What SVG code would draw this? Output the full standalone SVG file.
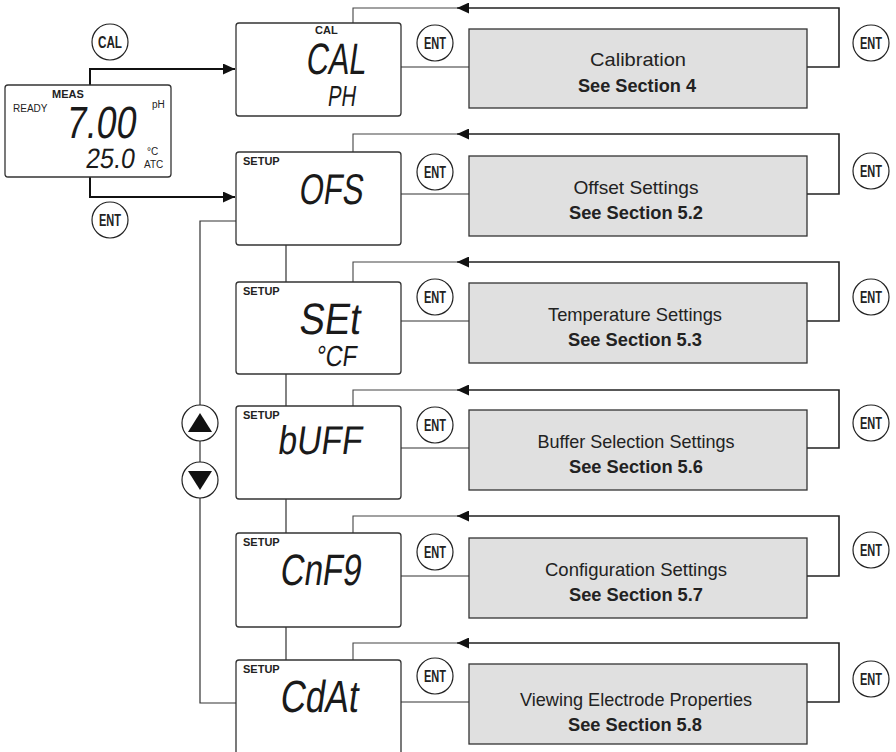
<svg xmlns="http://www.w3.org/2000/svg" width="896" height="752" viewBox="0 0 896 752">
<defs>
<style>
.box{fill:#fff;stroke:#333;stroke-width:1.3}
.gray{fill:#e0e0e0;stroke:#333;stroke-width:1.3}
.btn{fill:#fff;stroke:#222;stroke-width:1.2}
.btxt{font-family:"Liberation Sans Narrow","Liberation Sans",Arial,sans-serif;font-weight:bold;font-size:16px;fill:#222;text-anchor:middle}
.lcd{font-family:"Liberation Sans",Arial,sans-serif;font-weight:normal;fill:#1a1a1a}
.lbl{font-family:"Liberation Sans",Arial,sans-serif;font-weight:bold;font-size:11px;fill:#222}
.sm{font-family:"Liberation Sans",Arial,sans-serif;font-size:10px;fill:#222}
.t1{font-family:"Liberation Sans Narrow","Liberation Sans",Arial,sans-serif;font-size:19px;fill:#222;text-anchor:middle}
.t2{font-family:"Liberation Sans Narrow","Liberation Sans",Arial,sans-serif;font-weight:bold;font-size:19px;fill:#222;text-anchor:middle}
.fb{fill:none;stroke:#222;stroke-width:1.6}
.fl{fill:none;stroke:#444;stroke-width:1.1}
.ln{fill:none;stroke:#333;stroke-width:1.2}
.hv{fill:none;stroke:#111;stroke-width:2}
</style>
<marker id="ah" markerUnits="userSpaceOnUse" markerWidth="13" markerHeight="11" refX="12" refY="5.5" orient="auto">
<path d="M0,0 L12,5.5 L0,11 z" fill="#111"/>
</marker>
</defs>

<g id="connectors">
<path class="hv" d="M90,85 V69 H235" marker-end="url(#ah)"/>
<path class="hv" d="M90,177 V197 H235" marker-end="url(#ah)"/>
<path class="fb" d="M807,67 H839 V8 H457" marker-end="url(#ah)"/><path class="fl" d="M458,8 H353 V23"/>
<path class="fb" d="M807,194 H839 V134 H457" marker-end="url(#ah)"/><path class="fl" d="M458,134 H353 V152"/>
<path class="fb" d="M807,321 H839 V262 H457" marker-end="url(#ah)"/><path class="fl" d="M458,262 H353 V282"/>
<path class="fb" d="M807,448 H839 V390 H457" marker-end="url(#ah)"/><path class="fl" d="M458,390 H353 V406"/>
<path class="fb" d="M807,576 H839 V516 H457" marker-end="url(#ah)"/><path class="fl" d="M458,516 H353 V533"/>
<path class="fb" d="M807,702 H839 V643 H457" marker-end="url(#ah)"/><path class="fl" d="M458,643 H353 V660"/>
<path class="ln" d="M401,67 H469 M401,194 H469 M401,321 H469 M401,448 H469 M401,576 H469 M401,702 H469"/>
<path class="ln" d="M286,245 V282 M286,374 V406 M286,499 V533 M286,627 V660"/>
<path class="ln" d="M236,221 H200 V703 H236"/>
</g>

<g id="meas">
<rect class="box" x="5" y="85" width="166" height="92" rx="3"/>
<text class="lbl" x="52" y="98">MEAS</text>
<text class="sm" x="13" y="112">READY</text>
<text class="sm" x="152" y="108">pH</text>
<g transform="translate(65,138) skewX(-8)"><text class="lcd" font-size="45" textLength="70" lengthAdjust="spacingAndGlyphs">7.00</text></g>
<g transform="translate(85,168) skewX(-8)"><text class="lcd" font-size="28" textLength="49" lengthAdjust="spacingAndGlyphs">25.0</text></g>
<text class="sm" x="147" y="155">°C</text>
<text class="sm" x="144" y="168">ATC</text>
</g>

<g id="btn-cal"><circle class="btn" cx="110" cy="42" r="18"/><text class="btxt" x="110" y="48" textLength="24" lengthAdjust="spacingAndGlyphs">CAL</text></g>
<g id="btn-ent-main"><circle class="btn" cx="110" cy="220" r="18"/><text class="btxt" x="110" y="226" textLength="22" lengthAdjust="spacingAndGlyphs">ENT</text></g>

<g id="btn-up"><circle class="btn" cx="200" cy="423" r="18"/><path d="M200,413 L212,432 L188,432 z" fill="#111"/></g>
<g id="btn-down"><circle class="btn" cx="200" cy="480" r="18"/><path d="M188,471 L212,471 L200,490 z" fill="#111"/></g>

<g id="lcd-cal">
<rect class="box" x="236" y="23" width="165" height="93" rx="3"/>
<text class="lbl" x="315" y="34" font-size="10">CAL</text>
<g transform="translate(305,74) skewX(-8)"><text class="lcd" font-size="44" textLength="60" lengthAdjust="spacingAndGlyphs">CAL</text></g>
<g transform="translate(327,106) skewX(-8)"><text class="lcd" font-size="29" textLength="28" lengthAdjust="spacingAndGlyphs">PH</text></g>
</g>
<g id="lcd-ofs">
<rect class="box" x="236" y="152" width="165" height="93" rx="3"/>
<text class="lbl" x="243" y="165">SETUP</text>
<g transform="translate(298,204) skewX(-8)"><text class="lcd" font-size="43" textLength="64" lengthAdjust="spacingAndGlyphs">OFS</text></g>
</g>
<g id="lcd-set">
<rect class="box" x="236" y="282" width="165" height="92" rx="3"/>
<text class="lbl" x="243" y="295">SETUP</text>
<g transform="translate(298,334) skewX(-8)"><text class="lcd" font-size="44" textLength="61" lengthAdjust="spacingAndGlyphs">SEt</text></g>
<g transform="translate(315,366) skewX(-8)"><text class="lcd" font-size="29" textLength="41" lengthAdjust="spacingAndGlyphs">°CF</text></g>
</g>
<g id="lcd-buff">
<rect class="box" x="236" y="406" width="165" height="93" rx="3"/>
<text class="lbl" x="243" y="419">SETUP</text>
<g transform="translate(277,454) skewX(-8)"><text class="lcd" font-size="40" textLength="84" lengthAdjust="spacingAndGlyphs">bUFF</text></g>
</g>
<g id="lcd-cnf">
<rect class="box" x="236" y="533" width="165" height="94" rx="3"/>
<text class="lbl" x="243" y="546">SETUP</text>
<g transform="translate(279,585) skewX(-8)"><text class="lcd" font-size="44" textLength="81" lengthAdjust="spacingAndGlyphs">CnF9</text></g>
</g>
<g id="lcd-cdat">
<rect class="box" x="236" y="660" width="165" height="100" rx="3"/>
<text class="lbl" x="243" y="673">SETUP</text>
<g transform="translate(279,712) skewX(-8)"><text class="lcd" font-size="45" textLength="78" lengthAdjust="spacingAndGlyphs">CdAt</text></g>
</g>

<g id="ent-l1"><circle class="btn" cx="435" cy="43" r="18"/><text class="btxt" x="435" y="49" textLength="22" lengthAdjust="spacingAndGlyphs">ENT</text></g>
<g id="ent-l2"><circle class="btn" cx="435" cy="172" r="18"/><text class="btxt" x="435" y="178" textLength="22" lengthAdjust="spacingAndGlyphs">ENT</text></g>
<g id="ent-l3"><circle class="btn" cx="435" cy="297" r="18"/><text class="btxt" x="435" y="303" textLength="22" lengthAdjust="spacingAndGlyphs">ENT</text></g>
<g id="ent-l4"><circle class="btn" cx="435" cy="425" r="18"/><text class="btxt" x="435" y="431" textLength="22" lengthAdjust="spacingAndGlyphs">ENT</text></g>
<g id="ent-l5"><circle class="btn" cx="435" cy="552" r="18"/><text class="btxt" x="435" y="558" textLength="22" lengthAdjust="spacingAndGlyphs">ENT</text></g>
<g id="ent-l6"><circle class="btn" cx="435" cy="676" r="18"/><text class="btxt" x="435" y="682" textLength="22" lengthAdjust="spacingAndGlyphs">ENT</text></g>

<g id="ent-r1"><circle class="btn" cx="871" cy="43" r="18"/><text class="btxt" x="871" y="49" textLength="22" lengthAdjust="spacingAndGlyphs">ENT</text></g>
<g id="ent-r2"><circle class="btn" cx="871" cy="171" r="18"/><text class="btxt" x="871" y="177" textLength="22" lengthAdjust="spacingAndGlyphs">ENT</text></g>
<g id="ent-r3"><circle class="btn" cx="871" cy="297" r="18"/><text class="btxt" x="871" y="303" textLength="22" lengthAdjust="spacingAndGlyphs">ENT</text></g>
<g id="ent-r4"><circle class="btn" cx="871" cy="423" r="18"/><text class="btxt" x="871" y="429" textLength="22" lengthAdjust="spacingAndGlyphs">ENT</text></g>
<g id="ent-r5"><circle class="btn" cx="871" cy="550" r="18"/><text class="btxt" x="871" y="556" textLength="22" lengthAdjust="spacingAndGlyphs">ENT</text></g>
<g id="ent-r6"><circle class="btn" cx="871" cy="679" r="18"/><text class="btxt" x="871" y="685" textLength="22" lengthAdjust="spacingAndGlyphs">ENT</text></g>

<g id="sec-cal">
<rect class="gray" x="469" y="29" width="338" height="79"/>
<text class="t1" x="638" y="66" textLength="96" lengthAdjust="spacingAndGlyphs">Calibration</text>
<text class="t2" x="637" y="92" textLength="118" lengthAdjust="spacingAndGlyphs">See Section 4</text>
</g>
<g id="sec-ofs">
<rect class="gray" x="469" y="156" width="338" height="80"/>
<text class="t1" x="636" y="194" textLength="125" lengthAdjust="spacingAndGlyphs">Offset Settings</text>
<text class="t2" x="636" y="219" textLength="134" lengthAdjust="spacingAndGlyphs">See Section 5.2</text>
</g>
<g id="sec-temp">
<rect class="gray" x="469" y="283" width="338" height="80"/>
<text class="t1" x="635" y="321" textLength="174" lengthAdjust="spacingAndGlyphs">Temperature Settings</text>
<text class="t2" x="635" y="346" textLength="134" lengthAdjust="spacingAndGlyphs">See Section 5.3</text>
</g>
<g id="sec-buff">
<rect class="gray" x="469" y="410" width="338" height="80"/>
<text class="t1" x="636" y="448" textLength="197" lengthAdjust="spacingAndGlyphs">Buffer Selection Settings</text>
<text class="t2" x="636" y="473" textLength="134" lengthAdjust="spacingAndGlyphs">See Section 5.6</text>
</g>
<g id="sec-cnf">
<rect class="gray" x="469" y="538" width="338" height="80"/>
<text class="t1" x="636" y="576" textLength="182" lengthAdjust="spacingAndGlyphs">Configuration Settings</text>
<text class="t2" x="636" y="601" textLength="134" lengthAdjust="spacingAndGlyphs">See Section 5.7</text>
</g>
<g id="sec-cdat">
<rect class="gray" x="469" y="664" width="338" height="80"/>
<text class="t1" x="636" y="706" textLength="232" lengthAdjust="spacingAndGlyphs">Viewing Electrode Properties</text>
<text class="t2" x="635" y="731" textLength="134" lengthAdjust="spacingAndGlyphs">See Section 5.8</text>
</g>
</svg>
